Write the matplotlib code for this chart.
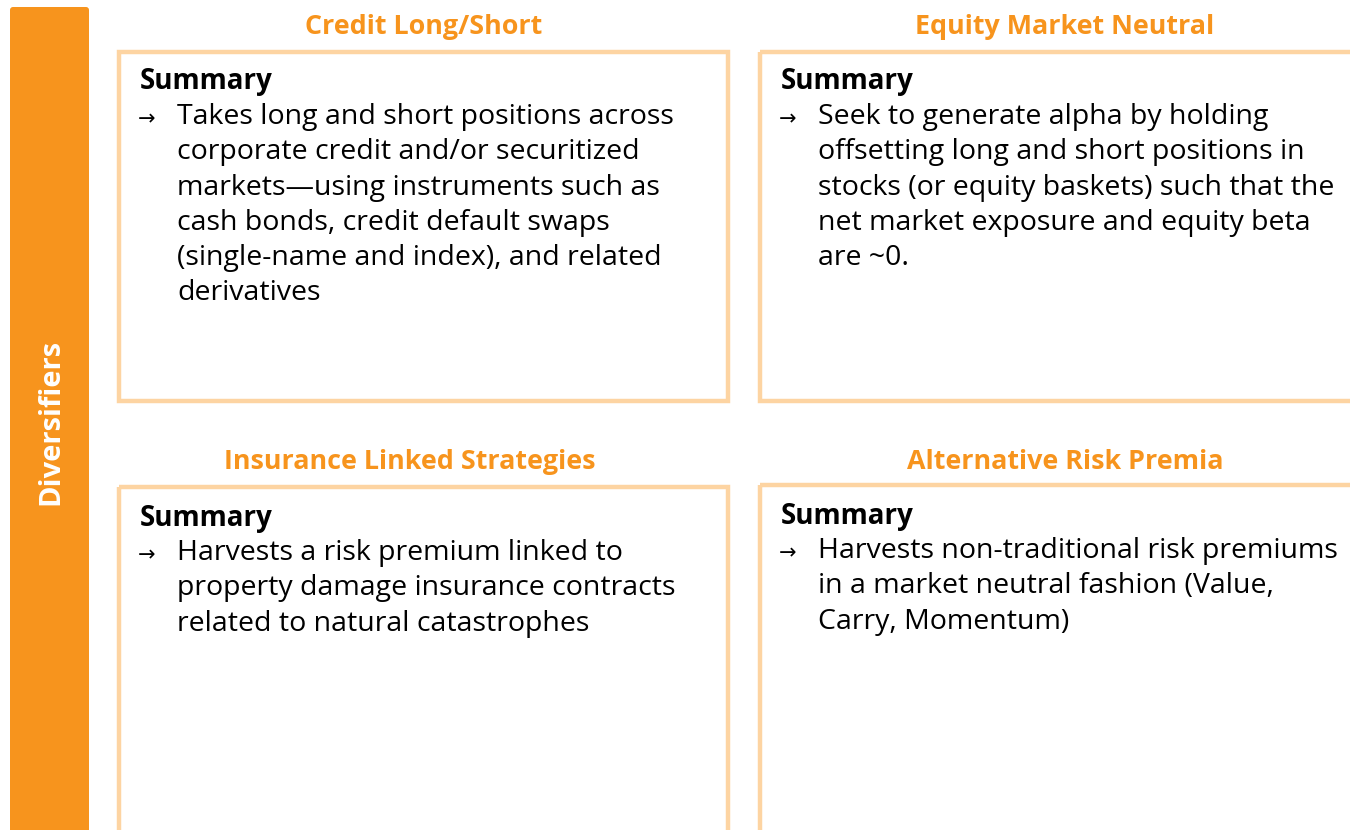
import matplotlib
matplotlib.use("Agg")
import matplotlib.pyplot as plt
from matplotlib.patches import Rectangle, FancyBboxPatch

side_label = "Diversifiers"
titles = ["Credit Long/Short", "Equity Market Neutral",
          "Insurance Linked Strategies", "Alternative Risk Premia"]
heading = "Summary"
summaries = [
    ["Takes long and short positions across",
     "corporate credit and/or securitized",
     "markets\u2014using instruments such as",
     "cash bonds, credit default swaps",
     "(single-name and index), and related",
     "derivatives"],
    ["Seek to generate alpha by holding",
     "offsetting long and short positions in",
     "stocks (or equity baskets) such that the",
     "net market exposure and equity beta",
     "are ~0."],
    ["Harvests a risk premium linked to",
     "property damage insurance contracts",
     "related to natural catastrophes"],
    ["Harvests non-traditional risk premiums",
     "in a market neutral fashion (Value,",
     "Carry, Momentum)"],
]

ORANGE = "#F7941D"
BORDER = "#FDD4A2"
FONT = "Open Sans"

W, H = 1350, 830
fig = plt.figure(figsize=(W / 100, H / 100), dpi=100)
ax = fig.add_axes([0, 0, 1, 1])
ax.set_xlim(0, W)
ax.set_ylim(H, 0)
ax.axis("off")

# side bar
ax.add_patch(FancyBboxPatch((10, 7), 79, 900, boxstyle="round,pad=0,rounding_size=3",
                            fc=ORANGE, ec="none"))
ax.text(51, 422, side_label, rotation=90, color="white", fontsize=21,
        fontweight="bold", ha="center", va="center", family=FONT)

# box layout: (left, top, right, bottom, title_cx, title_y, summary_y)
boxes = [
    (119, 52, 728, 401, 424, 25, 80),
    (760, 52, 1360, 401, 1065, 25, 80),
    (119, 487, 728, 900, 410, 460, 516),
    (760, 485, 1360, 900, 1065, 460, 514),
]
line_gap = 35.2
for (l, t, r, b, tcx, ty, sy), title, lines in zip(boxes, titles, summaries):
    ax.add_patch(Rectangle((l, t), r - l, b - t, fill=False, ec=BORDER, lw=3.2))
    ax.text(tcx, ty + 2, title, color=ORANGE, fontsize=19.4, fontweight="bold",
            ha="center", va="center", family=FONT)
    ax.text(l + 21, sy + 2, heading, color="black", fontsize=20, fontweight="bold",
            ha="left", va="center", family=FONT)
    for i, ln in enumerate(lines):
        y = sy + line_gap * (i + 1) + 2
        if i == 0:
            ax.text(l + 19, y + 2, "\u2192", fontsize=15, ha="left", va="center",
                    family="DejaVu Sans", color="black")
        ax.text(l + 58, y, ln, fontsize=20.5, ha="left", va="center",
                family=FONT, color="black")

fig.savefig("out.png", dpi=100)
